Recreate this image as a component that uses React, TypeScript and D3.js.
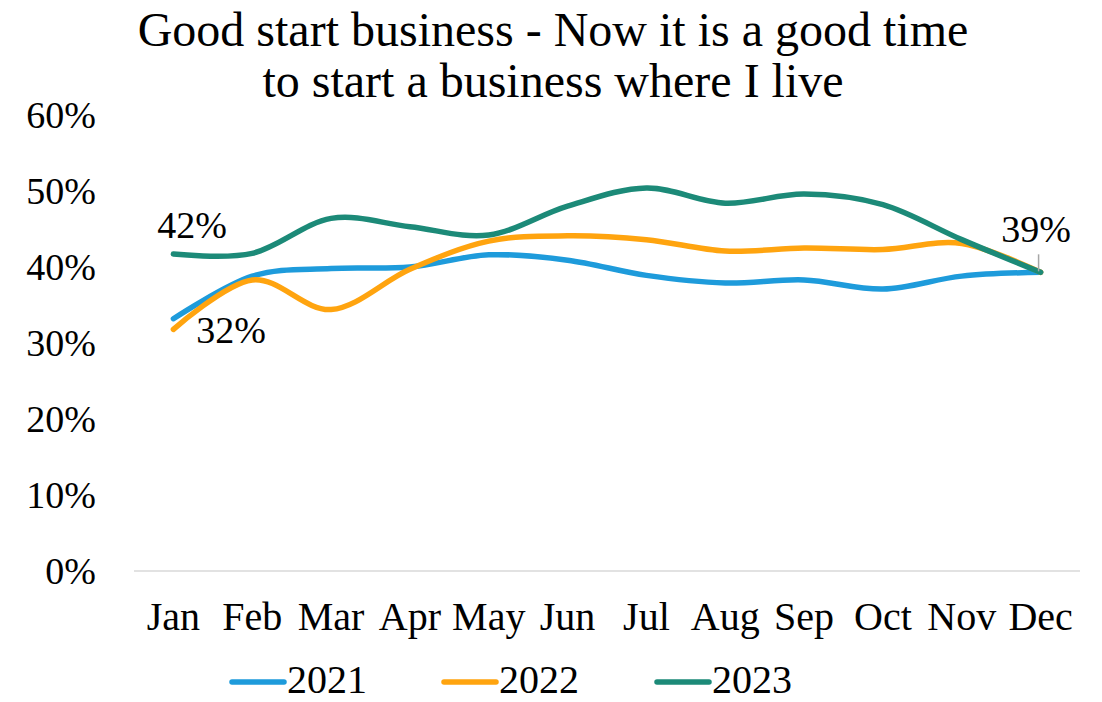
import React from "react";
import * as d3 from "d3";

const months = ["Jan", "Feb", "Mar", "Apr", "May", "Jun", "Jul", "Aug", "Sep", "Oct", "Nov", "Dec"];
const years = ["2021", "2022", "2023"];
const values2021 = [33.2, 38.8, 39.8, 40.0, 41.6, 40.9, 38.9, 37.9, 38.3, 37.1, 38.8, 39.3];
const values2022 = [31.8, 38.3, 34.4, 39.7, 43.4, 44.1, 43.6, 42.1, 42.5, 42.3, 43.1, 39.3];
const values2023 = [41.7, 41.8, 46.4, 45.3, 44.2, 48.0, 50.4, 48.4, 49.6, 48.2, 43.6, 39.3];
const yTicks = [0, 10, 20, 30, 40, 50, 60];
const titleLines = ["Good start business - Now it is a good time", "to start a business where I live"];

const seriesColors = ["#1E9BDB", "#FFA40F", "#1C8A78"];
const FONT = "'Liberation Serif', 'Times New Roman', serif";

export default function App() {
  const W = 1102, H = 702;
  const x = d3.scaleBand<string>().domain(months).range([134, 1080]);
  const y = d3.scaleLinear().domain([0, 60]).range([571, 115]);
  const cx = (m: string) => (x(m) as number) + x.bandwidth() / 2;

  const series = [values2021, values2022, values2023];
  const line = d3
    .line<number>()
    .x((_, i) => cx(months[i]))
    .y((v) => y(v))
    .curve(d3.curveCardinal.tension(0));

  const legendX = [230, 442, 655];

  const lastIdx = months.length - 1;
  const decX = cx(months[lastIdx]);
  const decY = y(values2023[lastIdx]);

  return (
    <svg width={W} height={H} style={{ position: "absolute", left: 0, top: 0, background: "#fff" }} fontFamily={FONT}>
      {titleLines.map((t, i) => (
        <text key={i} x={553} y={46 + i * 51} textAnchor="middle" fontSize={48} fill="#000">
          {t}
        </text>
      ))}
      {yTicks.map((t) => (
        <text key={t} x={96} y={y(t) + 12.5} textAnchor="end" fontSize={38} fill="#000">
          {t}%
        </text>
      ))}
      <line x1={134} x2={1080} y1={y(0)} y2={y(0)} stroke="#d9d9d9" strokeWidth={1.5} />
      {months.map((m) => (
        <text key={m} x={cx(m)} y={630} textAnchor="middle" fontSize={40} fill="#000">
          {m}
        </text>
      ))}
      {series.map((s, i) => (
        <path key={i} d={line(s) || ""} fill="none" stroke={seriesColors[i]} strokeWidth={5.5} strokeLinecap="round" strokeLinejoin="round" />
      ))}
      {/* data labels */}
      <text x={192} y={238} textAnchor="middle" fontSize={38} fill="#000">
        {Math.round(values2023[0])}%
      </text>
      <text x={231} y={343} textAnchor="middle" fontSize={38} fill="#000">
        {Math.round(values2022[0])}%
      </text>
      <line x1={decX - 2} x2={decX - 2} y1={decY - 18} y2={decY - 1} stroke="#a6a6a6" strokeWidth={1.5} />
      <text x={1036} y={242} textAnchor="middle" fontSize={38} fill="#000">
        {Math.round(values2023[lastIdx])}%
      </text>
      {/* legend */}
      {years.map((yr, i) => (
        <g key={yr}>
          <line x1={legendX[i] + 2} x2={legendX[i] + 54} y1={682} y2={682} stroke={seriesColors[i]} strokeWidth={5.5} strokeLinecap="round" />
          <text x={legendX[i] + 57} y={693} fontSize={40} fill="#000">
            {yr}
          </text>
        </g>
      ))}
    </svg>
  );
}
